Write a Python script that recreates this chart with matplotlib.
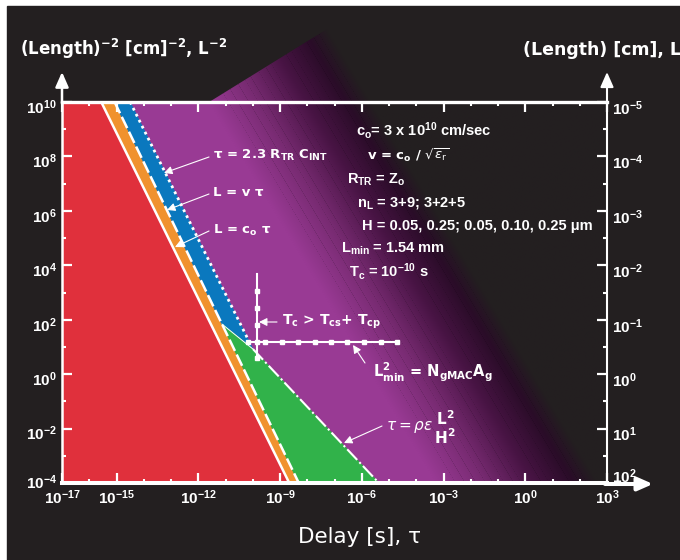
import numpy as np
import matplotlib
import matplotlib.pyplot as plt
from matplotlib.patches import Polygon, Rectangle, FancyArrowPatch
from matplotlib.image import AxesImage
from matplotlib.ticker import NullFormatter
from matplotlib.transforms import Affine2D, offset_copy

plt.rcParams['font.family'] = ['DejaVu Sans']
plt.rcParams['mathtext.fontset'] = 'custom'
plt.rcParams['mathtext.rm'] = 'Liberation Sans:bold'
plt.rcParams['mathtext.bf'] = 'Liberation Sans:bold'
plt.rcParams['mathtext.it'] = 'Liberation Sans:bold:italic'

# --- values (all log10) ---
x_major = [-17, -15, -12, -9, -6, -3, 0, 3]        # delay tau [s]
y_major = [10, 8, 6, 4, 2, 0, -2, -4]              # L^-2 [cm^-2]
L_labels = [-5, -4, -3, -2, -1, 0, 1, 2]           # L [cm] on the right axis

# boundary lines (log tau, log L^-2)
c_tau, c_L = [-15.56, -8.66], [10, -4]             # L = c_o tau
v_tau, v_L = [-15.07, -8.31], [10, -4]             # L = v tau
rc_tau, rc_L = [-14.50, -10.04], [10, 1.01]        # tau = 2.3 R_TR C_INT
rho_tau, rho_L = [-9.99, -5.37], [0.92, -4]        # tau = rho eps L^2/H^2
knee_tau, knee_L = [-11.13, -9.99], [1.84, 0.92]   # top edge of the green wedge

# T_c and L_min cross lines
tc_tau = -9.86
tc_L = [3.67, 3.07, 2.42, 1.81, 1.19, 0.58]
lmin_L = 1.17
lmin_tau = [-10.17, -9.55, -8.94, -8.33, -7.72, -7.14, -6.53, -5.92, -5.31, -4.70]

BG = '#231f20'
RED = '#e0303c'
ORANGE = '#f0922e'
BLUE = '#0a78be'
GREEN = '#31b24a'
PURPLE = '#993a94'

def p10(a):
    return 10.0 ** np.asarray(a, dtype=float)

W, H = 680, 560
fig = plt.figure(figsize=(6.8, 5.6), dpi=100, facecolor='white')
pix = Affine2D().scale(1 / W, -1 / H).translate(0, 1) + fig.transFigure
fig.add_artist(Rectangle((7 / W, 0), 1 - 7 / W, 1 - 6 / H, transform=fig.transFigure,
                         color=BG, zorder=-5))

ax = fig.add_axes([62 / W, (H - 483) / H, 545 / W, 381 / H])
ax.set_xscale('log')
ax.set_yscale('log')
ax.set_xlim(1e-17, 1e3)
ax.set_ylim(1e-4, 1e10)
ax.set_facecolor(PURPLE)

# purple -> dark fade, a tilted band that also pokes out above the frame
p0 = np.array([208.0, 100.0])
p1 = np.array([327.0, 29.0])
eu = p1 - p0
wd = np.hypot(*eu)
eu = eu / wd
ev = np.array([-eu[1], eu[0]])
s = np.linspace(0, 3, 1400)
stops = [0, 0.3, 0.6, 0.85, 1.0]
cols = np.array([[153, 58, 148], [120, 43, 114], [72, 20, 68], [42, 12, 40], [35, 31, 32]]) / 255
rgb = np.stack([np.interp(s, stops, cols[:, k]) for k in range(3)], axis=-1)
upx = s * wd
f = np.sin(upx * 2.1) + np.sin(upx * 0.77 + 1.3) + np.sin(upx * 3.9 + 0.4)
streak = np.where((f > 2.0) & (s > 0.08) & (s < 0.95), 0.86, 1.0)
rgb = rgb * streak[:, None]
rgba = np.concatenate([rgb, np.ones((len(s), 1))], axis=1)
grad = np.repeat(rgba[None], 4, axis=0)
im = AxesImage(ax, interpolation='bilinear', origin='lower', extent=(0, 3 * wd, 0, 620))
im.set_data(grad)
im.set_transform(Affine2D(np.array([[eu[0], ev[0], p0[0]],
                                    [eu[1], ev[1], p0[1]],
                                    [0, 0, 1]])) + pix)
tl = p0 + ev * (102 - p0[1]) / ev[1]
tr = p1 + ev * (102 - p1[1]) / ev[1]
clip = Polygon([(62, 483), (62, 102), tuple(tl), tuple(p1), tuple(tr), (607, 102), (607, 483)],
               closed=True, transform=pix)
im.set_clip_box(fig.bbox)
im.set_clip_path(clip)
im.set_zorder(0.5)
ax.add_image(im)

# regions
kw = dict(lw=0.6, zorder=1)
ax.fill(p10([-17, c_tau[0], c_tau[1], -17]), p10([10, 10, -4, -4]), color=RED, **kw)
ax.fill(p10([c_tau[0], v_tau[0], v_tau[1], c_tau[1]]), p10([10, 10, -4, -4]), color=ORANGE, **kw)
ax.fill(p10([v_tau[0], rc_tau[0], rc_tau[1], knee_tau[1], knee_tau[0]]),
        p10([10, 10, rc_L[1], knee_L[1], knee_L[0]]), color=BLUE, **kw)
ax.fill(p10([knee_tau[0], knee_tau[1], rho_tau[1], v_tau[1]]),
        p10([knee_L[0], knee_L[1], -4, -4]), color=GREEN, **kw)

# boundary lines
ax.plot(p10(c_tau), p10(c_L), color='white', lw=1.8, zorder=2)
ax.plot(p10(v_tau), p10(v_L), color='white', lw=1.8, ls=(0, (5, 1.6)), zorder=2)
ax.plot(p10(rc_tau), p10(rc_L), color='white', lw=2, ls=(0, (1, 1.4)), zorder=2)
ax.plot(p10(rho_tau), p10(rho_L), color='white', lw=1.5, ls=(0, (7, 1.5, 1, 1.5)), zorder=2)
ax.plot(p10(knee_tau), p10(knee_L), color='white', lw=0.7, zorder=2)

# T_c and L_min lines
ax.plot(p10([tc_tau] * len(tc_L)), p10(tc_L), color='white', lw=1.5, zorder=3)
ax.plot(p10([tc_tau] * (len(tc_L) - 1)), p10(tc_L[1:]), ls='none', marker='s', ms=3.2,
        color='white', zorder=3)
ax.plot(p10(lmin_tau), p10([lmin_L] * len(lmin_tau)), color='white', lw=1.5, marker='s',
        ms=3.2, zorder=3)

# axes, ticks
for side, lw in [('bottom', 2.9), ('top', 2.4), ('left', 1.8), ('right', 1.5)]:
    ax.spines[side].set_color('white')
    ax.spines[side].set_linewidth(lw)
ax.set_xticks(p10(x_major), [rf'$\mathbf{{10^{{{k}}}}}$' for k in x_major])
ax.set_xticks(p10(np.arange(-17, 4)), minor=True)
ax.set_yticks(p10(y_major), [''] * len(y_major))
ax.set_yticks(p10(np.arange(-4, 11)), minor=True)
ax.xaxis.set_minor_formatter(NullFormatter())
ax.yaxis.set_minor_formatter(NullFormatter())
ax.tick_params(which='both', direction='in', colors='white', top=True, right=True,
               labelsize=11)
ax.tick_params(which='major', length=7, width=1.6, pad=4)
ax.tick_params(which='minor', length=3, width=1.5)

ytr = ax.get_yaxis_transform()
lt = offset_copy(ytr, fig=fig, x=-5, y=-4, units='dots')
lt_low = offset_copy(ytr, fig=fig, x=-5, y=2, units='dots')
rt = offset_copy(ytr, fig=fig, x=5, y=-5, units='dots')
rt_low = offset_copy(ytr, fig=fig, x=5, y=8, units='dots')
last = len(y_major) - 1
for k, (ym, lv) in enumerate(zip(y_major, L_labels)):
    ax.text(0, 10.0 ** ym, rf'$\mathbf{{10^{{{ym}}}}}$', transform=lt_low if k == last else lt,
            ha='right', va='center_baseline', color='white', fontsize=11, clip_on=False)
    ax.text(1, 10.0 ** ym, rf'$\mathbf{{10^{{{lv}}}}}$', transform=rt_low if k == last else rt,
            ha='left', va='center_baseline', color='white', fontsize=11, clip_on=False)

# axis arrows
head = dict(arrowstyle='-|>,head_length=0.5,head_width=0.22', color='white',
            mutation_scale=18, shrinkA=0, shrinkB=0)
for a, b, lw in [((62, 103), (62, 72), 1.8), ((607, 103), (607, 72), 1.5),
                 ((605, 484), (653, 484), 2.9)]:
    fig.add_artist(FancyArrowPatch(a, b, transform=pix, lw=lw, zorder=3, **head))

# labels
bold = dict(color='white', fontweight='bold', math_fontfamily='dejavusans', transform=pix,
            va='center', ha='left')
fig.text(20, 49, r'(Length)$^\mathbf{-2}$ [cm]$^\mathbf{-2}$, L$^\mathbf{-2}$', fontsize=12, **bold)
fig.text(523, 50, '(Length) [cm], L', fontsize=12.5, **bold)
fig.text(359, 537, 'Delay [s], τ', transform=pix, ha='center', va='center', fontsize=15.5,
         color='white')

lib = dict(color='white', fontweight='bold', family='Liberation Sans', math_fontfamily='custom',
           transform=pix, va='center', ha='left', fontsize=10.5)
notes = [
    (356, 130, r'c$_\mathbf{o}$= 3 x 10$^\mathbf{10}$ cm/sec'),
    (347, 180, r'R$_\mathbf{TR}$ = Z$_\mathbf{o}$'),
    (357, 203, r'n$_\mathbf{L}$ = 3+9; 3+2+5'),
    (362, 226, 'H = 0.05, 0.25; 0.05, 0.10, 0.25 μm'),
    (341, 249, r'L$_\mathbf{min}$ = 1.54 mm'),
    (349, 272, r'T$_\mathbf{c}$ = 10$^\mathbf{-10}$ s'),
]
for x, y, t in notes:
    fig.text(x, y, t, **lib)
fig.text(367, 155, r'v = c$_\mathbf{o}$ / $\sqrt{\varepsilon_\mathrm{r}}$', fontsize=9.5, **bold)

thin = dict(arrowstyle='-|>,head_length=0.6,head_width=0.3', color='white', lw=0.8,
            mutation_scale=8, shrinkA=0, shrinkB=0)
callouts = [
    (213, 155, r'τ = 2.3 R$_\mathbf{TR}$ C$_\mathbf{INT}$', 9.5, (209, 157), (164, 173)),
    (213, 193, 'L = v τ', 9.5, (209, 194), (167, 210)),
    (213, 230, r'L = c$_\mathbf{o}$ τ', 9.5, (209, 231), (175, 247)),
    (282, 322, r'T$_\mathbf{c}$ > T$_\mathbf{cs}$+ T$_\mathbf{cp}$', 10, (277, 322), (259, 322)),
    (373, 372, r'L$^\mathbf{2}_\mathbf{min}$ = N$_\mathbf{gMAC}$A$_\mathbf{g}$', 10.5, (365, 363), (353, 345)),
]
for x, y, t, fs, a, b in callouts:
    fig.text(x, y, t, fontsize=fs, **bold)
    fig.add_artist(FancyArrowPatch(a, b, transform=pix, zorder=3, **thin))

fig.text(386, 427, r'$\tau = \rho\varepsilon\,\genfrac{}{}{0}{0}{\mathbf{L^2}}{\mathbf{H^2}}$', fontsize=11,
         color='white', math_fontfamily='dejavusans', transform=pix, va='center', ha='left')
fig.add_artist(FancyArrowPatch((382, 426), (344, 443), transform=pix, zorder=3, **thin))

fig.savefig('out.png', dpi=100, facecolor=fig.get_facecolor())
